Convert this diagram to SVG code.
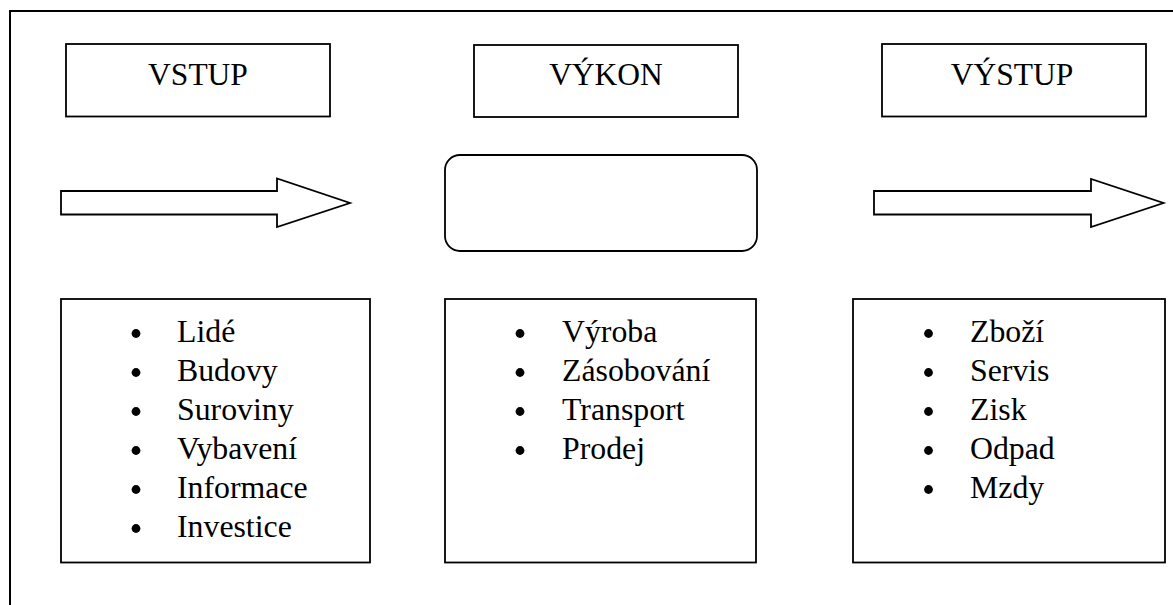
<svg xmlns="http://www.w3.org/2000/svg" width="1173" height="605" viewBox="0 0 1173 605">
  <style>
    .box { fill: #fff; stroke: #000; stroke-width: 1.8; }
    .frame { fill: none; stroke: #000; stroke-width: 2; }
    .title { font-family: "Liberation Serif", "Times New Roman", serif; font-size: 31.5px; fill: #000; text-anchor: middle; }
    .item { font-family: "Liberation Serif", "Times New Roman", serif; font-size: 31.8px; fill: #000; }
    .dot { fill: #000; }
  </style>
  <defs>
    <circle id="bullet" r="4.4" class="dot"/>
  </defs>

  <rect width="1173" height="605" fill="#fff"/>
  <!-- page frame (open on the right and bottom) -->
  <path class="frame" d="M1173,11 H10 V605"/>

  <!-- column headers -->
  <g id="vstup">
    <rect class="box" x="66" y="44" width="264" height="72.5"/>
    <text class="title" x="198" y="85">VSTUP</text>
  </g>
  <g id="vykon">
    <rect class="box" x="474" y="45" width="264" height="72"/>
    <text class="title" x="606" y="85">VÝKON</text>
  </g>
  <g id="vystup">
    <rect class="box" x="882" y="44" width="264" height="72.5"/>
    <text class="title" x="1012" y="84.5">VÝSTUP</text>
  </g>

  <!-- process block -->
  <g id="process">
    <rect class="box" x="445" y="155" width="312" height="96" rx="15" ry="15"/>
  </g>

  <!-- block arrows -->
  <g id="connectors">
    <polygon class="box" points="61,191 277,191 277,178.5 350,203 277,227 277,214.5 61,214.5"/>
    <polygon class="box" points="874,191 1091,191 1091,179 1163.5,203 1091,227 1091,214.5 874,214.5"/>
  </g>

  <!-- input list -->
  <g id="inputs">
    <rect class="box" x="61" y="299" width="309" height="263.5"/>
    <use href="#bullet" x="136" y="333.5"/>
    <use href="#bullet" x="136" y="372.5"/>
    <use href="#bullet" x="136" y="411.5"/>
    <use href="#bullet" x="136" y="450.5"/>
    <use href="#bullet" x="136" y="489.5"/>
    <use href="#bullet" x="136" y="528.5"/>
    <text class="item" x="177" y="341.7">Lidé</text>
    <text class="item" x="177" y="380.7">Budovy</text>
    <text class="item" x="177" y="419.7">Suroviny</text>
    <text class="item" x="177" y="458.7">Vybavení</text>
    <text class="item" x="177" y="497.7">Informace</text>
    <text class="item" x="177" y="536.7">Investice</text>
  </g>

  <!-- process list -->
  <g id="activities">
    <rect class="box" x="445" y="299" width="311" height="263.5"/>
    <use href="#bullet" x="520" y="333.5"/>
    <use href="#bullet" x="520" y="372.5"/>
    <use href="#bullet" x="520" y="411.5"/>
    <use href="#bullet" x="520" y="450.5"/>
    <text class="item" x="562" y="341.7">Výroba</text>
    <text class="item" x="562" y="380.7">Zásobování</text>
    <text class="item" x="562" y="419.7">Transport</text>
    <text class="item" x="562" y="458.7">Prodej</text>
  </g>

  <!-- output list -->
  <g id="outputs">
    <rect class="box" x="853" y="299" width="312" height="263.5"/>
    <use href="#bullet" x="928.5" y="333.5"/>
    <use href="#bullet" x="928.5" y="372.5"/>
    <use href="#bullet" x="928.5" y="411.5"/>
    <use href="#bullet" x="928.5" y="450.5"/>
    <use href="#bullet" x="928.5" y="489.5"/>
    <text class="item" x="970" y="341.7">Zboží</text>
    <text class="item" x="970" y="380.7">Servis</text>
    <text class="item" x="970" y="419.7">Zisk</text>
    <text class="item" x="970" y="458.7">Odpad</text>
    <text class="item" x="970" y="497.7">Mzdy</text>
  </g>
</svg>
